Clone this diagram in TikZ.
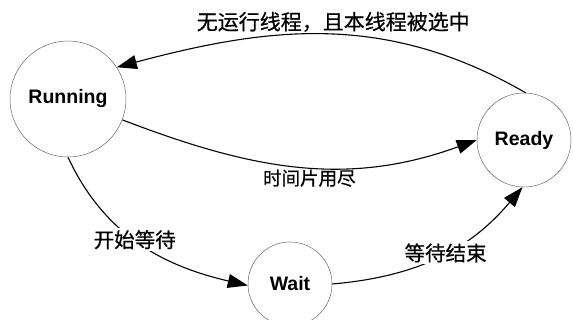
\documentclass[tikz,border=0pt]{standalone}
\usepackage{fontspec}
\setmainfont{Liberation Sans}
\newfontfamily\cjk[FakeBold=0.6]{Noto Sans CJK SC}
\usetikzlibrary{arrows.meta}
\begin{document}
\begin{tikzpicture}[x=1pt,y=1pt,
    state/.style={circle,draw=black!60,line width=0.5pt,inner sep=0pt,
      font=\fontsize{19.5}{22}\selectfont\bfseries},
    trans/.style={-{Triangle[length=20pt,width=14pt]},line width=1.1pt},
    lbl/.style={font=\cjk\fontsize{20.5}{24}\selectfont,inner sep=2pt}]
  \useasboundingbox (0,0) rectangle (573,320);
  \draw
    (68,221) node[state,minimum size=116pt] (run){Running}
    (524,180) node[state,minimum size=94pt] (ready){Ready}
    (290,36) node[state,minimum size=84pt] (wait){Wait};
  \begin{scope}[trans]
    \draw (ready.88) to[out=150,in=15]
      node[lbl,above,xshift=6pt,font=\cjk\fontsize{21}{24}\selectfont] {无运行线程，且本线程被选中} (run.33);
    \draw (run.-21) to[out=-21,in=200]
      node[lbl,below,pos=0.53,font=\cjk\fontsize{18.5}{22}\selectfont] {时间片用尽} (ready.180);
    \draw (run.270) to[out=-65,in=167]
      node[lbl,fill=white,pos=0.47] {开始等待} (wait.182);
    \draw (wait.0) to[out=5,in=230]
      node[lbl,fill=white,pos=0.54] {等待结束} (ready.268);
  \end{scope}
\end{tikzpicture}
\end{document}
